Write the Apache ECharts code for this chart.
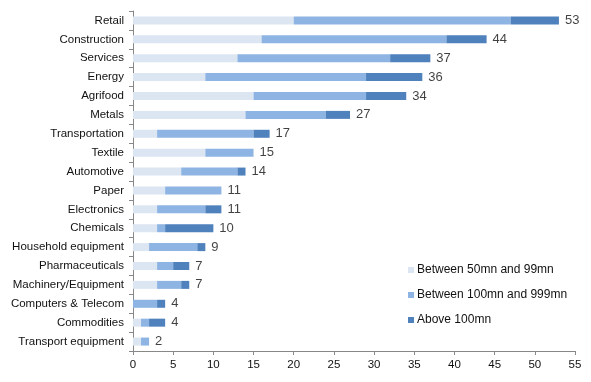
<!DOCTYPE html>
<html><head><meta charset="utf-8">
<script src="https://cdn.jsdelivr.net/npm/echarts@6/dist/echarts.min.js"></script>
<style>html,body{margin:0;padding:0;background:#fff}#c{width:591px;height:382px}</style>
</head><body><div id="c"></div>
<script>
const categories = ["Retail","Construction","Services","Energy","Agrifood","Metals","Transportation","Textile","Automotive","Paper","Electronics","Chemicals","Household equipment","Pharmaceuticals","Machinery/Equipment","Computers & Telecom","Commodities","Transport equipment"];
const between50and99 = [20,16,13,9,15,14,3,9,6,4,3,3,2,3,3,0,1,1];
const between100and999 = [27,23,19,20,14,10,12,6,7,7,6,1,6,2,3,3,1,1];
const above100 = [6,5,5,7,5,3,2,0,1,0,2,6,1,2,1,1,2,0];
const totals = [53,44,37,36,34,27,17,15,14,11,11,10,9,7,7,4,4,2];
const xTicks = [0,5,10,15,20,25,30,35,40,45,50,55];

const font = 'Liberation Sans, Arial, sans-serif';
const chart = echarts.init(document.getElementById('c'));
chart.setOption({
  animation:false,
  textStyle:{fontFamily:font},
  grid:{left:133,right:16,top:11,bottom:31,containLabel:false},
  legend:{orient:'vertical',left:403,top:259,itemWidth:6,itemHeight:6,itemGap:13,icon:'rect',
    textStyle:{fontFamily:font,fontSize:12,color:'#111',padding:[0,0,0,-2]},
    data:['Between 50mn and 99mn','Between 100mn and 999mn','Above 100mn']},
  xAxis:{type:'value',min:0,max:55,interval:5,
    axisLine:{show:true,lineStyle:{color:'#888'}},
    axisTick:{show:true,length:4,lineStyle:{color:'#888'}},
    splitLine:{show:false},
    axisLabel:{fontFamily:font,fontSize:11.5,color:'#111',margin:8,
      formatter:v=>xTicks.includes(v)?String(v):''}},
  yAxis:{type:'category',inverse:true,data:categories,
    axisLine:{show:true,lineStyle:{color:'#888'}},
    axisTick:{show:true,length:4,lineStyle:{color:'#888'}},
    axisLabel:{fontFamily:font,fontSize:11.5,color:'#111',margin:9}},
  series:[
    {name:'Between 50mn and 99mn',type:'bar',stack:'s',barWidth:8,data:between50and99,itemStyle:{color:'#DCE6F2'}},
    {name:'Between 100mn and 999mn',type:'bar',stack:'s',barWidth:8,data:between100and999,itemStyle:{color:'#8DB4E2'}},
    {name:'Above 100mn',type:'bar',stack:'s',barWidth:8,data:above100,itemStyle:{color:'#4F81BD'}},
    {name:'total',type:'scatter',data:totals,symbolSize:0.01,silent:true,
      label:{show:true,position:'right',distance:6,fontFamily:font,fontSize:13,color:'#111',formatter:p=>String(p.value)}}
  ]
});
</script></body></html>
